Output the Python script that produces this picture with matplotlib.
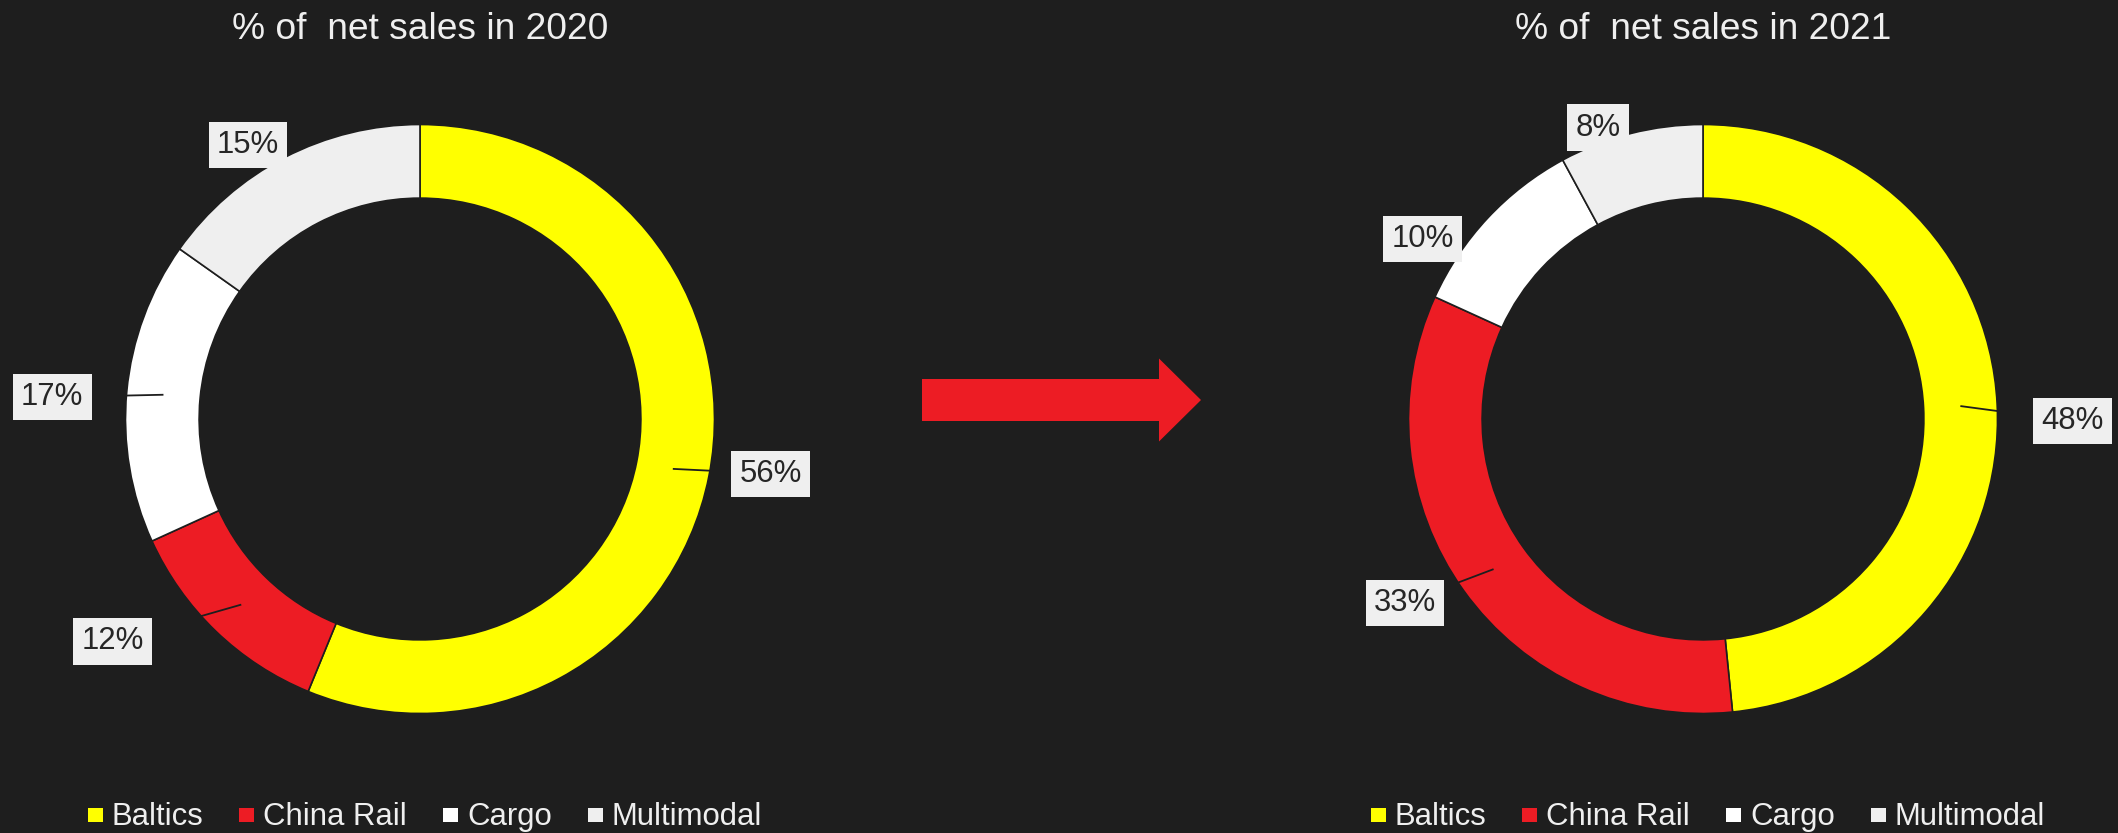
import matplotlib
matplotlib.use('Agg')
import matplotlib.pyplot as plt
import numpy as np
from matplotlib.patches import Rectangle, FancyArrow

# ---- data ----
categories = ['Baltics', 'China Rail', 'Cargo', 'Multimodal']
shares_2020 = [56.2, 12.0, 16.6, 15.2]
shares_2021 = [48.4, 33.4, 10.3, 7.9]
years = ['2020', '2021']

# ---- style ----
colors = ['#FFFF00', '#ED1C24', '#FFFFFF', '#EFEFEF']
BG = '#1E1E1E'
LABEL_BG = '#EFEFEF'
TEXT_DARK = '#262626'
TEXT_LIGHT = '#EFEFEF'

plt.rcParams['font.family'] = ['Liberation Sans', 'DejaVu Sans']

W, H = 2118, 833
fig = plt.figure(figsize=(W / 100, H / 100), dpi=100, facecolor=BG)
renderer = fig.canvas.get_renderer()

R_PX = 294.5
centers_px = [(420, 419), (1703, 419)]
LIM = 1.4
RING = 0.25
# label placement: (radius factor, angle nudge in degrees, draw leader)
label_layout = [
    [(1.205, 2.3, True), (1.289, -10.2, True), (1.251, 2.0, True), (1.098, 4.8, False)],
    [(1.255, -3.2, True), (1.189, -4.0, True), (1.132, 10.3, False), (1.052, 5.6, False)],
]

# legend layout (pixels)
LEG_FS = 22.4
MK_W, MK_H = 15, 14
MK_GAP = 9
COL_GAP = 36
LEG_BASE = 8      # baseline height from bottom
MK_BOTTOM = 11


def legend_row(cx):
    texts, widths = [], []
    for name in categories:
        t = fig.text(0, LEG_BASE / H, name, fontsize=LEG_FS, color=TEXT_LIGHT,
                     ha='left', va='baseline')
        texts.append(t)
        widths.append(t.get_window_extent(renderer).width)
    total = sum(widths) + len(categories) * (MK_W + MK_GAP) + (len(categories) - 1) * COL_GAP
    x = cx + 5 - total / 2
    for t, w, c in zip(texts, widths, colors):
        fig.add_artist(Rectangle((x / W, MK_BOTTOM / H), MK_W / W, MK_H / H,
                                 transform=fig.transFigure, facecolor=c, edgecolor='none'))
        t.set_x((x + MK_W + MK_GAP) / W)
        x += MK_W + MK_GAP + w + COL_GAP


for i, (shares, year) in enumerate(zip([shares_2020, shares_2021], years)):
    cx, cy = centers_px[i]
    size = 2 * LIM * R_PX
    ax = fig.add_axes([(cx - LIM * R_PX) / W, (H - cy - LIM * R_PX) / H, size / W, size / H])
    wedges, _ = ax.pie(shares, colors=colors, startangle=90, counterclock=False,
                       wedgeprops=dict(width=RING, edgecolor=BG, linewidth=1.2))
    ax.set_xlim(-LIM, LIM)
    ax.set_ylim(-LIM, LIM)
    ax.set_aspect('equal')
    ax.axis('off')
    for w, val, (rf, nudge, leader) in zip(wedges, shares, label_layout[i]):
        mid = np.radians((w.theta1 + w.theta2) / 2)
        ang = mid + np.radians(nudge)
        lx, ly = rf * np.cos(ang), rf * np.sin(ang)
        if leader:
            rm = 1 - RING / 2
            ax.plot([rm * np.cos(mid), lx], [rm * np.sin(mid), ly], color=BG, lw=1.3,
                    zorder=3, solid_capstyle='butt')
        ax.text(lx, ly, f"{round(val):.0f}%", ha='center', va='center', fontsize=22.4,
                color=TEXT_DARK, zorder=5,
                bbox=dict(boxstyle='square,pad=0.26', facecolor=LABEL_BG, edgecolor='none'))

    fig.text(cx / W, 1 - 39 / H, f'% of  net sales in {year}', ha='center', va='baseline',
             fontsize=26.7, color=TEXT_LIGHT)

    legend_row(cx)

# arrow between the charts
ov = fig.add_axes([0, 0, 1, 1])
ov.set_xlim(0, W)
ov.set_ylim(H, 0)
ov.axis('off')
ov.add_patch(FancyArrow(922, 400, 279, 0, width=42, head_width=83, head_length=42,
                        length_includes_head=True, color='#ED1C24', lw=0))

fig.savefig('out.png', dpi=100, facecolor=BG)
